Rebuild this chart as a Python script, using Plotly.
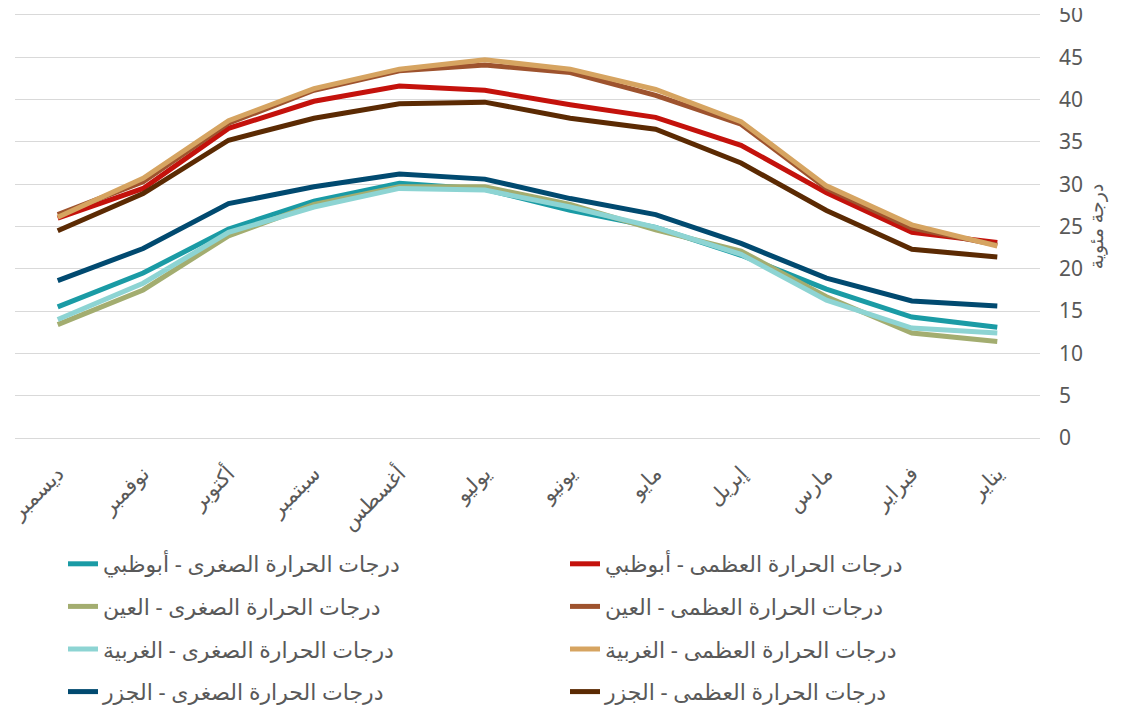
import plotly.graph_objects as go

months = ["يناير", "فبراير", "مارس", "إبريل", "مايو", "يونيو",
          "يوليو", "أغسطس", "سبتمبر", "أكتوبر", "نوفمبر", "ديسمبر"]

min_abudhabi = [13.1, 14.3, 17.6, 21.6, 24.9, 26.9, 29.4, 30.1, 28.0, 24.7, 19.5, 15.5]
max_abudhabi = [23.1, 24.3, 29.0, 34.6, 37.9, 39.4, 41.1, 41.6, 39.8, 36.6, 29.5, 26.0]
min_alain = [11.4, 12.4, 16.7, 22.1, 24.6, 27.6, 29.7, 29.7, 27.6, 23.9, 17.5, 13.4]
max_alain = [22.8, 24.8, 29.5, 37.1, 40.5, 43.2, 44.1, 43.4, 41.1, 37.2, 30.3, 26.4]
min_gharbia = [12.4, 13.0, 16.3, 21.7, 24.9, 27.3, 29.3, 29.5, 27.3, 24.3, 18.3, 14.0]
max_gharbia = [22.7, 25.2, 29.8, 37.4, 41.2, 43.6, 44.7, 43.6, 41.3, 37.5, 30.7, 26.1]
min_jazira = [15.6, 16.2, 18.9, 23.0, 26.4, 28.3, 30.6, 31.2, 29.7, 27.7, 22.4, 18.6]
max_jazira = [21.4, 22.3, 26.9, 32.5, 36.5, 37.8, 39.7, 39.5, 37.8, 35.2, 28.9, 24.5]

series = [
    ("درجات الحرارة الصغرى - أبوظبي", min_abudhabi, "#1A9BA5", "legend"),
    ("درجات الحرارة العظمى - أبوظبي", max_abudhabi, "#C4120C", "legend2"),
    ("درجات الحرارة الصغرى - العين", min_alain, "#A3AD70", "legend"),
    ("درجات الحرارة العظمى - العين", max_alain, "#9E532E", "legend2"),
    ("درجات الحرارة الصغرى - الغربية", min_gharbia, "#8DD4D3", "legend"),
    ("درجات الحرارة العظمى - الغربية", max_gharbia, "#D6A461", "legend2"),
    ("درجات الحرارة الصغرى - الجزر", min_jazira, "#014A70", "legend"),
    ("درجات الحرارة العظمى - الجزر", max_jazira, "#5B2A03", "legend2"),
]

FONT = "Noto Sans, DejaVu Sans, sans-serif"
TXT = "#595959"

fig = go.Figure()
for i, (name, vals, color, lg) in enumerate(series):
    fig.add_trace(go.Scatter(
        x=months, y=vals, name=name, mode="lines",
        line=dict(color=color, width=5),
        legend=lg, legendgroup=f"g{i}",
    ))

legend_common = dict(
    orientation="v", xref="container", yref="container",
    xanchor="left", yanchor="top",
    font=dict(family=FONT, size=22, color=TXT),
    bgcolor="rgba(0,0,0,0)", tracegroupgap=11,
)

fig.update_layout(
    width=1123, height=711,
    margin=dict(l=7, r=91, t=7, b=281, autoexpand=False),
    paper_bgcolor="white", plot_bgcolor="white",
    font=dict(family=FONT, color=TXT, size=19),
    showlegend=True,
    legend=dict(x=55 / 1123, y=1 - 535 / 711, **legend_common),
    legend2=dict(x=557 / 1123, y=1 - 535 / 711, **legend_common),
    xaxis=dict(
        range=[11.5, -0.5], tickangle=-45,
        showgrid=False, showline=True, mirror=True,
        linecolor="#D9D9D9", linewidth=1,
        ticks="", ticklabelstandoff=14,
        tickfont=dict(family=FONT, size=21, color=TXT),
        zeroline=False,
    ),
    yaxis=dict(
        side="right", range=[0, 50], dtick=5,
        showgrid=True, gridcolor="#D9D9D9", gridwidth=1,
        showline=False, zeroline=False, ticks="",
        ticklabelstandoff=18, ticklabeloverflow="allow",
        tickfont=dict(family=FONT, size=21, color=TXT),
        title=dict(text="درجة مئوية", font=dict(family=FONT, size=19, color=TXT), standoff=4),
    ),
)

fig.write_html(
    "out.html",
    post_script="document.querySelectorAll('.main-svg, .svg-container').forEach(function(e){e.style.overflow='visible';});",
)
